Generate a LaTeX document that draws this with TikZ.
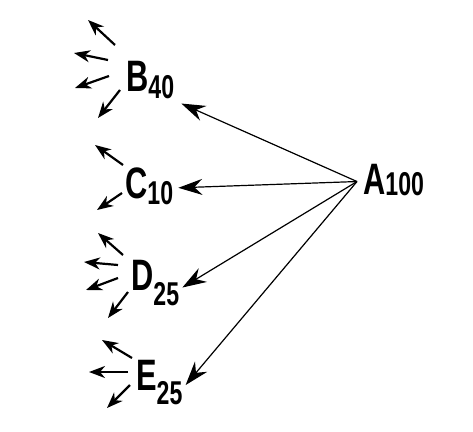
\documentclass[tikz,border=0pt]{standalone}
\usepackage{fontspec}
\setmainfont[FakeStretch=0.7]{Liberation Sans}
\usetikzlibrary{arrows.meta}
\newcommand\lbl[3]{#1\raisebox{-#3pt}{\fontsize{33}{33}\selectfont #2}}
\tikzset{
  lab/.style={inner sep=1pt, anchor=base west, font=\fontsize{44}{44}\selectfont\bfseries},
  main/.style={line width=1.2pt, -{Stealth[length=24pt,width=16pt,inset=8pt]}},
  small/.style={line width=2.2pt, -{Stealth[length=16pt,width=12pt,inset=5pt]}}
}
\begin{document}
\begin{tikzpicture}[x=1pt,y=-1pt]
\useasboundingbox (0,0) rectangle (473,431);
\node[lab] (A) at (362,194) {\lbl{A}{100}{1}};
\node[lab] (B) at (125,91) {\lbl{B}{40}{7}};
\node[lab] (C) at (124,198) {\lbl{C}{10}{6}};
\node[lab] (D) at (130,290) {\lbl{D}{25}{15}};
\node[lab] (E) at (135,390) {\lbl{E}{25}{14}};
\coordinate (a0) at ([xshift=-5pt,yshift=-2pt]A.west);
\draw[main] (a0) -- ([xshift=6pt,yshift=-4pt]B.south east);
\draw[main] (a0) -- ([xshift=4pt,yshift=-2pt]C.east);
\draw[main] (a0) -- ([xshift=2pt,yshift=-5pt]D.east);
\draw[main] (a0) -- ([xshift=2pt,yshift=-3pt]E.east);
% B group
\draw[small] (115,45) -- (88,20);
\draw[small] (108,60) -- (74,53);
\draw[small] (109,76) -- (75,88);
\draw[small] (120,90) -- (98,118);
% C group
\draw[small] (123,165) -- (95,145);
\draw[small] (122,193) -- (97,210);
% D group
\draw[small] (123,255) -- (98,233);
\draw[small] (118,265) -- (84,262);
\draw[small] (118,278) -- (86,290);
\draw[small] (128,292) -- (108,318);
% E group
\draw[small] (132,358) -- (102,340);
\draw[small] (128,372) -- (89,372);
\draw[small] (130,385) -- (107,408);
\end{tikzpicture}
\end{document}
